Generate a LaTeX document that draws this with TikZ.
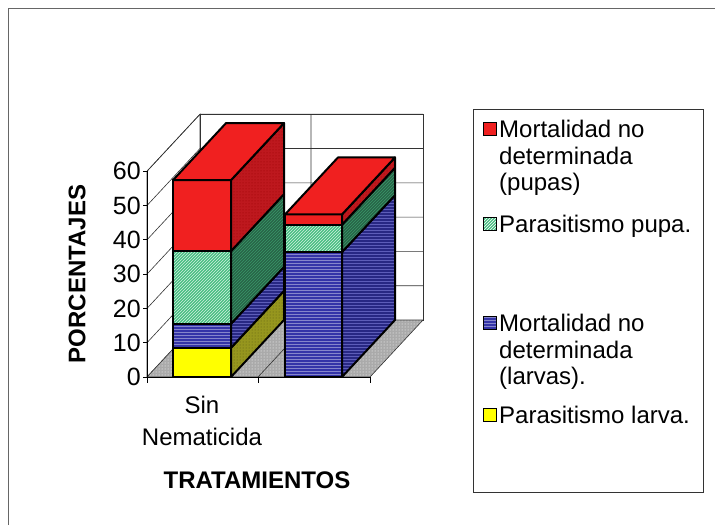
\documentclass[tikz,border=0pt]{standalone}
\usepackage{fontspec}
\setmainfont{Liberation Sans}
\usepackage{tikz}
\usetikzlibrary{patterns, calc}

\definecolor{redF}{RGB}{240,32,32}
\definecolor{redS}{RGB}{190,24,30}
\definecolor{greenF}{RGB}{72,190,130}
\definecolor{greenS}{RGB}{40,100,72}
\definecolor{blueF}{RGB}{52,52,168}
\definecolor{blueS}{RGB}{40,40,132}
\definecolor{yellowF}{RGB}{255,255,0}
\definecolor{yellowS}{RGB}{150,150,30}
\definecolor{floorC}{RGB}{170,170,170}

\tikzstyle{barline} = [draw=black, line width=2pt, line join=round]
\tikzstyle{redfront} = [barline, fill=redF]
\tikzstyle{redside} = [barline, preaction={fill=redS}, pattern=dots, pattern color=red!60!black]
\tikzstyle{greenfront} = [barline, preaction={fill=greenF}, pattern=north east lines, pattern color=white!75!greenF]
\tikzstyle{greenside} = [barline, preaction={fill=greenS}, pattern=north east lines, pattern color=greenF!80!black]
\tikzstyle{bluefront} = [barline, preaction={fill=blueF}, pattern=horizontal lines, pattern color=blueF!60!white]
\tikzstyle{blueside} = [barline, preaction={fill=blueS}, pattern=horizontal lines, pattern color=blueF!80!white]
\tikzstyle{yellowfront} = [barline, fill=yellowF]
\tikzstyle{yellowside} = [barline, preaction={fill=yellowS}, pattern=dots, pattern color=yellowS!60!black]
\tikzstyle{wall} = [draw=black!80, line width=0.6pt, fill=white]
\tikzstyle{floor} = [draw=black!80, line width=0.6pt, preaction={fill=floorC}, pattern=dots, pattern color=white]
\tikzstyle{grid} = [draw=black!80, line width=0.6pt]
\tikzstyle{key} = [draw=black, line width=1.4pt, minimum size=13pt, inner sep=0pt]
\tikzstyle{label} = [font=\fontsize{24}{27}\selectfont, inner sep=0pt]

% one slice of a bar: x, width, from, to, front style, side style
\newcommand{\barpart}[6]{%
  \draw[#5] (#1,#3) rectangle ++(#2,#4-#3);
  \draw[#6] (#1+#2,#3) -- ++(53pt,57pt) -- ++(0,#4-#3) -- ++(-53pt,-57pt) -- cycle;
}
\newcommand{\bartop}[3]{%
  \draw[redfront] (#1,#3) -- ++(53pt,57pt) -- ++(#2,0) -- ++(-53pt,-57pt) -- cycle;
}

\begin{document}
\begin{tikzpicture}[x=1pt, y=-1pt]
    \useasboundingbox (0,0) rectangle (715,525);
    \draw[black!60, line width=0.8pt] (8,525) -- (8,8) -- (715,8);

    \begin{scope}[shift={(0,377)}, y=3.43pt]
        % walls and floor
        \coordinate (o) at (147,0);
        \draw[wall] (o) -- ++(53pt,57pt) -- ++(0,60) -- ++(-53pt,-57pt) -- cycle;
        \draw[wall] ($(o)+(53pt,57pt)$) rectangle ++(223,60);
        \draw[floor] (o) -- ++(53pt,57pt) -- ++(223,0) -- ++(-53pt,-57pt) -- cycle;
        \foreach \v in {10,20,...,60}
            \draw[grid] (147,\v) -- ++(53pt,57pt) -- ++(223,0);
        \draw[grid] (258,0) -- ++(53pt,57pt) -- ++(0,60);

        % axes
        \draw[black, line width=0.8pt] (147,60) -- (147,0) -- (370,0);
        \foreach \v in {0,10,...,60} {
            \draw[black, line width=0.8pt] (143,\v) -- (147,\v);
            \node[label, font=\fontsize{25}{27}\selectfont, anchor=east] (t\v) at (141,\v) {\v};
        }
        \foreach \x in {147,258,370}
            \draw[black, line width=0.8pt] (\x,0) -- ++(0,-6pt);

        % Sin Nematicida
        \barpart{173}{58}{0}{8.5}{yellowfront}{yellowside}
        \barpart{173}{58}{8.5}{15.5}{bluefront}{blueside}
        \barpart{173}{58}{15.5}{36.7}{greenfront}{greenside}
        \barpart{173}{58}{36.7}{57.4}{redfront}{redside}
        \bartop{173}{58}{57.4}

        % second bar
        \barpart{285}{57}{0}{36.4}{bluefront}{blueside}
        \barpart{285}{57}{36.4}{44.4}{greenfront}{greenside}
        \barpart{285}{57}{44.4}{47.4}{redfront}{redside}
        \bartop{285}{57}{47.4}
    \end{scope}

    \node[label, font=\fontsize{24}{27}\selectfont\bfseries, rotate=90] (ylab) at (77,274) {PORCENTAJES};
    \node[label] (cat1a) at (202,405) {Sin};
    \node[label] (cat1b) at (202,437) {Nematicida};
    \node[label, font=\fontsize{24}{27}\selectfont\bfseries] (xlab) at (257,480) {TRATAMIENTOS};

    % legend
    \draw[black!80, line width=0.8pt] (473,109) rectangle (703,492);
    \node[key, fill=redF] (k1) at (490,129) {};
    \node[key, preaction={fill=greenF}, pattern=north east lines, pattern color=white] (k2) at (490,224) {};
    \node[key, preaction={fill=blueF}, pattern=horizontal lines, pattern color=blueF!60!white] (k3) at (490,323) {};
    \node[key, fill=yellowF] (k4) at (490,415) {};
    \node[label, anchor=base west] (l1a) at (499,137) {Mortalidad no};
    \node[label, anchor=base west] (l1b) at (499,164) {determinada};
    \node[label, anchor=base west] (l1c) at (499,190) {(pupas)};
    \node[label, anchor=base west] (l2) at (499,232) {Parasitismo pupa.};
    \node[label, anchor=base west] (l3a) at (499,331) {Mortalidad no};
    \node[label, anchor=base west] (l3b) at (499,358) {determinada};
    \node[label, anchor=base west] (l3c) at (499,384) {(larvas).};
    \node[label, anchor=base west] (l4) at (499,423) {Parasitismo larva.};
\end{tikzpicture}
\end{document}
